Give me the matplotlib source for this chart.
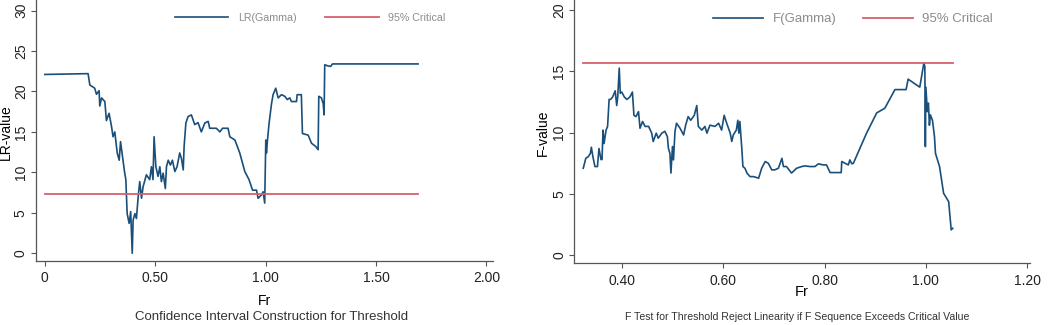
import matplotlib
matplotlib.use("Agg")
import matplotlib.pyplot as plt

plt.rcParams["font.family"] = ["Liberation Sans", "DejaVu Sans"]

# LR(Gamma) sequence, left panel
lr_fr = [0.0, 0.196, 0.204, 0.226, 0.234, 0.246, 0.249, 0.257, 0.272, 0.279,
         0.291, 0.302, 0.309, 0.317, 0.328, 0.337, 0.343, 0.352, 0.362, 0.367,
         0.373, 0.382, 0.389, 0.396, 0.400, 0.408, 0.415, 0.423, 0.430, 0.438,
         0.445, 0.460, 0.475, 0.483, 0.490, 0.495, 0.503, 0.513, 0.521, 0.528,
         0.536, 0.546, 0.551, 0.559, 0.569, 0.578, 0.589, 0.599, 0.611, 0.619,
         0.627, 0.631, 0.639, 0.649, 0.664, 0.679, 0.694, 0.709, 0.725, 0.740,
         0.747, 0.777, 0.793, 0.805, 0.830, 0.838, 0.861, 0.883, 0.906, 0.925,
         0.941, 0.959, 0.966, 0.981, 0.989, 0.996, 1.001, 1.004, 1.008, 1.016,
         1.027, 1.034, 1.046, 1.057, 1.072, 1.087, 1.098, 1.110, 1.117, 1.140,
         1.143, 1.162, 1.167, 1.193, 1.208, 1.227, 1.238, 1.241, 1.253, 1.261,
         1.265, 1.268, 1.283, 1.295, 1.303, 1.691]
lr_val = [22.1, 22.2, 20.8, 20.4, 19.65, 20.1, 18.2, 19.2, 18.75, 16.4,
          17.3, 15.7, 14.4, 15.0, 12.4, 11.5, 13.8, 11.95, 9.9, 9.1,
          4.9, 3.7, 5.15, 0.0, 4.1, 4.9, 4.3, 7.0, 8.86, 6.8,
          8.2, 9.7, 9.1, 10.7, 9.1, 14.4, 10.7, 9.5, 10.7, 8.86,
          9.9, 8.0, 10.7, 11.5, 10.9, 11.5, 10.1, 10.7, 12.4, 11.7,
          10.3, 13.2, 16.1, 16.9, 17.1, 15.9, 16.15, 15.0, 16.1, 16.3,
          15.45, 15.45, 15.0, 15.45, 15.45, 14.4, 14.0, 12.4, 10.1, 9.1,
          7.8, 7.8, 6.8, 7.2, 7.6, 6.2, 14.0, 12.4, 13.8, 16.1,
          18.5, 19.6, 20.4, 19.2, 19.6, 19.4, 19.0, 19.2, 18.75, 18.75,
          19.6, 19.6, 14.8, 14.6, 13.6, 13.2, 12.8, 19.4, 19.2, 18.5,
          17.1, 23.3, 23.15, 23.1, 23.4, 23.4]
lr_critical = 7.35

# F(Gamma) sequence, right panel
f_fr = [0.324, 0.329, 0.334, 0.338, 0.340, 0.343, 0.347, 0.352, 0.355, 0.359,
        0.361, 0.363, 0.365, 0.369, 0.372, 0.375, 0.378, 0.382, 0.387, 0.390,
        0.392, 0.395, 0.397, 0.400, 0.405, 0.410, 0.416, 0.421, 0.424, 0.428,
        0.433, 0.436, 0.441, 0.446, 0.453, 0.459, 0.462, 0.468, 0.472, 0.479,
        0.485, 0.490, 0.492, 0.495, 0.497, 0.500, 0.502, 0.505, 0.508, 0.515,
        0.522, 0.526, 0.531, 0.536, 0.543, 0.548, 0.551, 0.558, 0.564, 0.568,
        0.574, 0.584, 0.591, 0.597, 0.602, 0.607, 0.614, 0.617, 0.620, 0.626,
        0.629, 0.631, 0.633, 0.637, 0.639, 0.643, 0.647, 0.653, 0.660, 0.670,
        0.676, 0.683, 0.689, 0.696, 0.702, 0.709, 0.716, 0.719, 0.725, 0.735,
        0.745, 0.755, 0.762, 0.771, 0.781, 0.788, 0.798, 0.804, 0.811, 0.833,
        0.834, 0.847, 0.850, 0.854, 0.857, 0.883, 0.903, 0.919, 0.939, 0.961,
        0.965, 0.988, 0.996, 0.998, 0.999, 1.000, 1.003, 1.005, 1.007, 1.009,
        1.013, 1.017, 1.019, 1.023, 1.027, 1.035, 1.041, 1.045, 1.050, 1.053]
f_val = [7.09, 7.9, 8.04, 8.3, 8.8, 8.04, 7.23, 7.23, 8.7, 7.8,
         7.8, 10.2, 9.1, 10.2, 10.5, 12.7, 12.7, 12.9, 13.4, 12.2,
         12.9, 15.25, 13.2, 13.3, 12.9, 12.7, 12.9, 13.3, 11.4, 11.3,
         11.7, 10.35, 10.9, 10.5, 10.5, 9.95, 9.27, 9.95, 9.54, 9.95,
         10.1, 9.67, 8.72, 8.3, 6.7, 8.86, 7.77, 10.1, 10.76, 10.35,
         9.8, 10.6, 11.3, 11.0, 11.4, 12.2, 10.5, 10.2, 10.5, 9.95,
         10.6, 10.5, 10.76, 10.2, 11.4, 10.76, 9.95, 9.27, 9.8, 10.2,
         11.0, 9.95, 10.9, 8.6, 7.23, 7.09, 6.7, 6.41, 6.41, 6.28,
         7.09, 7.64, 7.5, 6.96, 6.96, 7.09, 7.9, 7.23, 7.23, 6.7,
         7.09, 7.23, 7.28, 7.23, 7.23, 7.45, 7.36, 7.36, 6.74, 6.74,
         7.64, 7.36, 7.77, 7.45, 7.5, 9.95, 11.6, 11.98, 13.5, 13.5,
         14.35, 13.7, 15.65, 15.4, 8.86, 13.7, 11.7, 12.4, 10.6, 11.44,
         11.0, 9.67, 8.3, 7.77, 7.23, 5.05, 4.65, 4.37, 2.07, 2.2]
f_critical = 15.7

BLUE = "#1a4f7a"
RED = "#d6606a"
AXIS_GRAY = "#555555"
LEGEND_TEXT = "#8c8c8c"


def style_axes(axes):
    for side in ("top", "right"):
        axes.spines[side].set_visible(False)
    for side in ("left", "bottom"):
        axes.spines[side].set_color(AXIS_GRAY)
        axes.spines[side].set_linewidth(0.9)
    axes.tick_params(direction="out", length=3.5, width=0.8, color=AXIS_GRAY,
                     labelsize=10, labelcolor="#222222")
    axes.tick_params(axis="x", pad=4)
    axes.tick_params(axis="y", pad=2.3)
    for label in axes.get_yticklabels():
        label.set_rotation(90)
        label.set_va("center")


figure = plt.figure(figsize=(10.52, 3.25), dpi=100)

# left panel
ax1 = figure.add_axes([0.0342, 0.197, 0.4344, 0.803])
ax1.plot(lr_fr, lr_val, color=BLUE, lw=1.2, label="LR(Gamma)")
ax1.plot([lr_fr[0], lr_fr[-1]], [lr_critical, lr_critical], color=RED, lw=1.3,
         label="95% Critical")
ax1.set_xlim(-0.04, 2.03)
ax1.set_ylim(-0.95, 31.3)
ax1.set_xticks([0, 0.5, 1.0, 1.5, 2.0])
ax1.set_xticklabels(["0", "0.50", "1.00", "1.50", "2.00"])
ax1.set_yticks([0, 5, 10, 15, 20, 25, 30])
style_axes(ax1)
ax1.set_ylabel("LR-value", fontsize=10)
ax1.yaxis.set_label_coords(-0.0503, 0.494)
ax1.set_xlabel("Fr", fontsize=10, labelpad=6)
legend1 = ax1.legend(loc="center", bbox_to_anchor=(0.6, 0.932), ncol=2,
                     frameon=False, fontsize=7.7, handlelength=5.0,
                     columnspacing=2.7, handletextpad=0.9)
for text in legend1.get_texts():
    text.set_color(LEGEND_TEXT)
figure.text(272 / 1052, 1 - 317 / 325, "Confidence Interval Construction for Threshold",
            ha="center", va="center", fontsize=9.5, color="#333333")

# right panel
ax2 = figure.add_axes([0.546, 0.19, 0.433, 0.81])
ax2.plot(f_fr, f_val, color=BLUE, lw=1.2, label="F(Gamma)")
ax2.plot([f_fr[0], f_fr[-1]], [f_critical, f_critical], color=RED, lw=1.3,
         label="95% Critical")
ax2.set_xlim(0.3065, 1.2053)
ax2.set_ylim(-0.65, 20.8)
ax2.set_xticks([0.4, 0.6, 0.8, 1.0, 1.2])
ax2.set_xticklabels(["0.40", "0.60", "0.80", "1.00", "1.20"])
ax2.set_yticks([0, 5, 10, 15, 20])
style_axes(ax2)
ax2.set_ylabel("F-value", fontsize=10)
ax2.yaxis.set_label_coords(-0.0533, 0.494)
ax2.set_xlabel("Fr", fontsize=10.5, labelpad=-2)
legend2 = ax2.legend(loc="center", bbox_to_anchor=(0.612, 0.927), ncol=2,
                     frameon=False, fontsize=9.5, handlelength=3.8,
                     columnspacing=2.0, handletextpad=0.7)
for text in legend2.get_texts():
    text.set_color(LEGEND_TEXT)
figure.text(797 / 1052, 1 - 317 / 325,
            "F Test for Threshold Reject Linearity if F Sequence Exceeds Critical Value",
            ha="center", va="center", fontsize=7.6, color="#333333")

figure.savefig("out.png", dpi=100)
plt.close(figure)
